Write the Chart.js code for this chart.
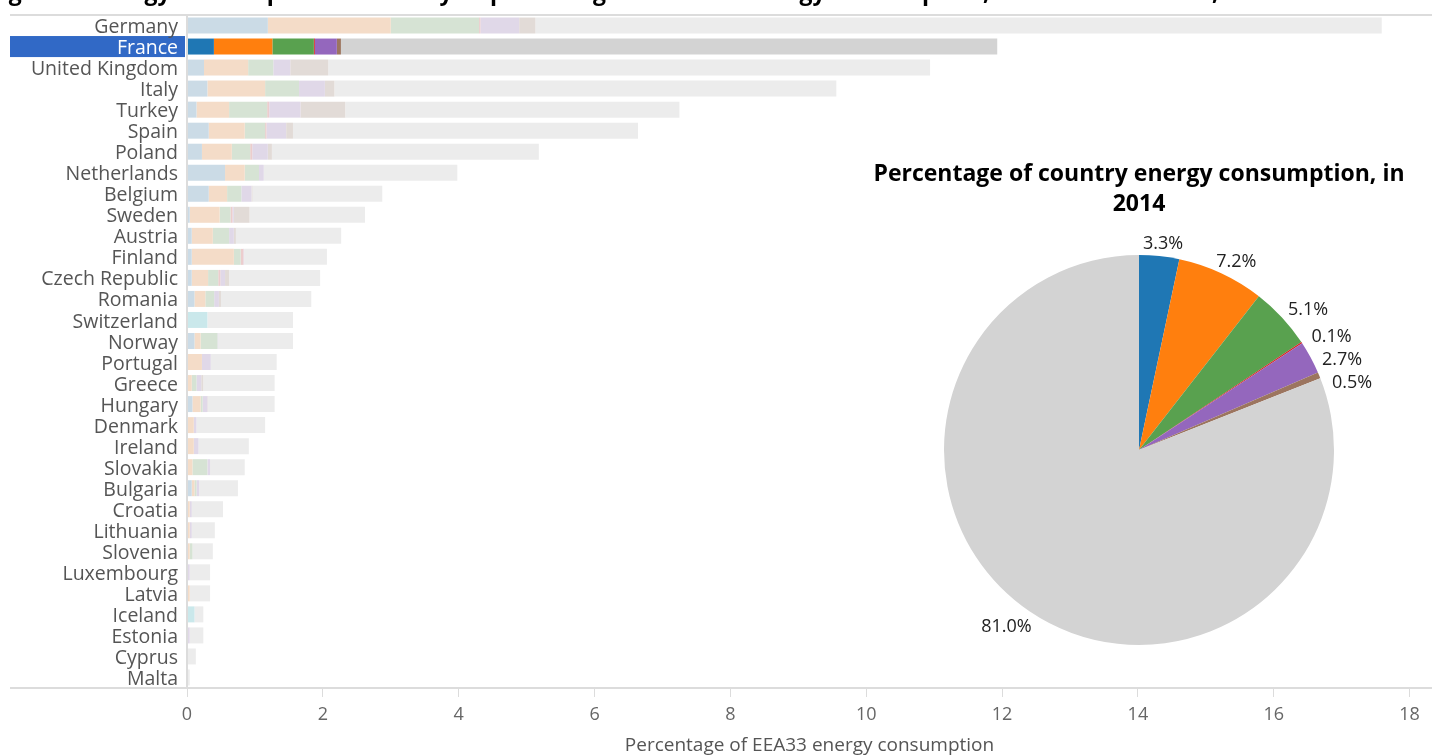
<!DOCTYPE html>
<html>
<head>
<meta charset="utf-8">
<script src="https://cdn.jsdelivr.net/npm/chart.js@4.4.1/dist/chart.umd.min.js"></script>
<style>
    html, body { margin: 0; padding: 0; background: #fff; }
    #wrap { position: relative; width: 1432px; height: 756px; overflow: hidden; }
    #bars { position: absolute; left: 0; top: 0; width: 1432px; height: 756px; }
    #pie { position: absolute; left: 839px; top: 140px; width: 600px; height: 515px; }
</style>
</head>
<body>
<div id="wrap">
    <canvas id="bars" width="1432" height="756"></canvas>
    <canvas id="pie" width="600" height="515"></canvas>
</div>
<script>
/**
 * Countries, largest first.
 */
const countries = [
    'Germany', 'France', 'United Kingdom', 'Italy', 'Turkey', 'Spain', 'Poland', 'Netherlands',
    'Belgium', 'Sweden', 'Austria', 'Finland', 'Czech Republic', 'Romania', 'Switzerland', 'Norway',
    'Portugal', 'Greece', 'Hungary', 'Denmark', 'Ireland', 'Slovakia', 'Bulgaria', 'Croatia',
    'Lithuania', 'Slovenia', 'Luxembourg', 'Latvia', 'Iceland', 'Estonia', 'Cyprus', 'Malta'
];

/**
 * The highlighted country, shown in the pie.
 */
const selectedCountry = 'France';
const pieYear = 2014;

/**
 * Share of EEA33 energy consumption (%), one array per part of the bar.
 */
const part1 = [1.19, 0.396, 0.25, 0.30, 0.14, 0.32, 0.22, 0.56, 0.32, 0.04, 0.07, 0.07, 0.07, 0.11, 0, 0.11,
    0, 0, 0.08, 0, 0, 0, 0.07, 0, 0, 0, 0, 0, 0, 0, 0, 0];
const part2 = [1.81, 0.861, 0.65, 0.85, 0.48, 0.53, 0.44, 0.29, 0.27, 0.44, 0.31, 0.62, 0.24, 0.16, 0, 0.09,
    0.22, 0.07, 0.12, 0.10, 0.10, 0.08, 0.04, 0.04, 0.04, 0.04, 0, 0.04, 0, 0, 0, 0];
const part3 = [1.30, 0.611, 0.37, 0.50, 0.56, 0.30, 0.27, 0.21, 0.21, 0.16, 0.24, 0.10, 0.15, 0.13, 0, 0.25,
    0, 0.07, 0.03, 0, 0, 0.22, 0.03, 0, 0, 0.04, 0, 0, 0, 0, 0, 0];
const part4 = [0.02, 0.014, 0, 0, 0.03, 0.02, 0.03, 0, 0, 0.03, 0, 0.04, 0.03, 0, 0, 0,
    0, 0, 0, 0, 0, 0, 0, 0, 0, 0, 0, 0, 0, 0, 0, 0];
const part5 = [0.57, 0.324, 0.25, 0.38, 0.46, 0.29, 0.23, 0.07, 0.15, 0.02, 0.07, 0.01, 0.07, 0.07, 0, 0.01,
    0.13, 0.07, 0.07, 0.04, 0.07, 0.04, 0.04, 0.03, 0.03, 0, 0.04, 0, 0, 0.04, 0, 0];
const part6 = [0.24, 0.06, 0.56, 0.14, 0.66, 0.10, 0.06, 0, 0.015, 0.23, 0.03, 0, 0.06, 0.03, 0, 0,
    0, 0.03, 0.01, 0, 0, 0, 0, 0, 0, 0, 0, 0, 0, 0, 0, 0];
const part7 = [0, 0, 0, 0, 0, 0, 0, 0, 0, 0, 0, 0, 0, 0, 0.30, 0,
    0, 0, 0, 0, 0, 0, 0, 0, 0, 0, 0, 0, 0.11, 0, 0, 0];
const rest = [12.46, 9.663, 8.86, 7.39, 4.92, 5.08, 3.93, 2.85, 1.91, 1.70, 1.55, 1.22, 1.34, 1.33, 1.26, 1.10,
    0.97, 1.05, 0.98, 1.01, 0.74, 0.51, 0.57, 0.46, 0.34, 0.30, 0.30, 0.30, 0.13, 0.20, 0.13, 0.04];

const partNames = ['Part 1', 'Part 2', 'Part 3', 'Part 4', 'Part 5', 'Part 6', 'Part 7', 'Other'];
const partValues = [part1, part2, part3, part4, part5, part6, part7, rest];
const partColors = ['#1f77b4', '#ff7f0e', '#59a14f', '#d62728', '#9467bd', '#9c755f', '#17becf', '#d3d3d3'];

const xTicks = [0, 2, 4, 6, 8, 10, 12, 14, 16, 18];
const xMax = 18.33;

const FONT = "'Open Sans', sans-serif";
Chart.defaults.font.family = FONT;

/**
 * Washed out version of a colour, for the countries that are not selected.
 */
function fade(hex) {
    const n = parseInt(hex.slice(1), 16);
    const mix = c => Math.round(c * 0.18 + 241 * 0.82);
    return `rgb(${mix(n >> 16)}, ${mix((n >> 8) & 255)}, ${mix(n & 255)})`;
}

const selectedIndex = countries.indexOf(selectedCountry);

/**
 * Frame lines, the highlight behind the selected label and the (cut) figure title.
 */
const framePlugin = {
    id: 'frame',
    beforeDraw(chart) {
        const {ctx, chartArea} = chart;
        const yScale = chart.scales.y;
        const band = (yScale.bottom - yScale.top) / countries.length;
        const yc = yScale.getPixelForValue(selectedIndex);
        ctx.save();
        ctx.fillStyle = '#3169c6';
        ctx.fillRect(10, yc - band / 2, chartArea.left - 12, band);
        ctx.restore();
    },
    afterDraw(chart) {
        const {ctx, chartArea, width} = chart;
        ctx.save();
        ctx.strokeStyle = '#dcdcdc';
        ctx.lineWidth = 2;
        ctx.beginPath();
        ctx.moveTo(10, chartArea.top);
        ctx.lineTo(width, chartArea.top);
        ctx.moveTo(10, chartArea.bottom);
        ctx.lineTo(width, chartArea.bottom);
        ctx.moveTo(chartArea.left, chartArea.top);
        ctx.lineTo(chartArea.left, chartArea.bottom);
        ctx.stroke();

        ctx.fillStyle = '#000';
        ctx.font = `bold 23px ${FONT}`;
        ctx.textBaseline = 'alphabetic';
        ctx.textAlign = 'left';
        ctx.fillText('Figure 1: Energy consumption of country as percentage of the EEA energy consumption, all EEA33 countries, ' + pieYear, -11, 0);
        ctx.restore();
    }
};

new Chart(document.getElementById('bars'), {
    type: 'bar',
    data: {
        labels: countries,
        datasets: partValues.map((values, i) => ({
            label: partNames[i],
            data: values,
            backgroundColor: countries.map((c, j) => j === selectedIndex ? partColors[i] : fade(partColors[i])),
            borderWidth: 0,
            barPercentage: 0.76,
            categoryPercentage: 1
        }))
    },
    options: {
        indexAxis: 'y',
        responsive: false,
        animation: false,
        layout: {padding: {top: 15, left: 10, right: 0, bottom: 0}},
        plugins: {legend: {display: false}, tooltip: {enabled: false}},
        scales: {
            x: {
                stacked: true,
                min: 0,
                max: xMax,
                afterBuildTicks(scale) {
                    scale.ticks = xTicks.map(v => ({value: v}));
                },
                afterFit(scale) {
                    scale.height = 68;
                    scale.paddingLeft = 0;
                    scale.paddingRight = 0;
                },
                grid: {drawOnChartArea: false, drawTicks: true, tickLength: 9, color: '#dcdcdc'},
                border: {display: false},
                ticks: {font: {size: 18}, color: '#666', padding: 7, maxRotation: 0},
                title: {
                    display: true,
                    text: 'Percentage of EEA33 energy consumption',
                    font: {size: 19, lineHeight: 1.1},
                    color: '#555',
                    padding: {top: 0, bottom: 0}
                }
            },
            y: {
                stacked: true,
                afterFit(scale) {
                    scale.width = 177;
                    scale.paddingTop = 0;
                    scale.paddingBottom = 0;
                },
                grid: {display: false, drawTicks: false},
                border: {display: false},
                ticks: {
                    autoSkip: false,
                    padding: 9,
                    labelOffset: 2,
                    font: {size: 19.5},
                    color: ctx => ctx.index === selectedIndex ? '#fff' : '#555'
                }
            }
        }
    },
    plugins: [framePlugin]
});

/**
 * Percent labels round the pie, pushed down where they would overlap.
 */
const pieLabelPlugin = {
    id: 'pieLabels',
    afterDatasetsDraw(chart) {
        const {ctx} = chart;
        const meta = chart.getDatasetMeta(0);
        const values = chart.data.datasets[0].data;
        const total = values.reduce((a, b) => a + b, 0);
        ctx.save();
        ctx.font = `18px ${FONT}`;
        ctx.fillStyle = '#222';
        ctx.textAlign = 'center';
        ctx.textBaseline = 'middle';
        let prev = null;
        meta.data.forEach((arc, i) => {
            if (!values[i]) return;
            const text = (values[i] / total * 100).toFixed(1) + '%';
            const mid = (arc.startAngle + arc.endAngle) / 2;
            const dx = Math.cos(mid), dy = Math.sin(mid);
            const halfW = ctx.measureText(text).width / 2;
            const r = arc.outerRadius * 1.08;
            const x = arc.x + dx * r + halfW * dx;
            let y = arc.y + dy * r + 3;
            if (prev && dx > 0 && prev.dx > 0 && Math.abs(x - prev.x) < halfW * 2 + 4 && y - prev.y < 23) {
                y = prev.y + 23;
            }
            ctx.fillText(text, x, y);
            prev = {x, y, dx};
        });
        ctx.restore();
    }
};

new Chart(document.getElementById('pie'), {
    type: 'pie',
    data: {
        labels: partNames,
        datasets: [{
            data: partValues.map(values => values[selectedIndex]),
            backgroundColor: partColors,
            borderWidth: 0
        }]
    },
    options: {
        responsive: false,
        animation: false,
        layout: {padding: {top: 0, bottom: 10, left: 0, right: 0}},
        plugins: {
            legend: {display: false},
            tooltip: {enabled: false},
            title: {
                display: true,
                text: ['Percentage of country energy consumption, in', String(pieYear)],
                color: '#000',
                font: {size: 23, weight: 'bold', lineHeight: 30 / 23},
                padding: {top: 19, bottom: 36}
            }
        }
    },
    plugins: [pieLabelPlugin]
});
</script>
</body>
</html>
